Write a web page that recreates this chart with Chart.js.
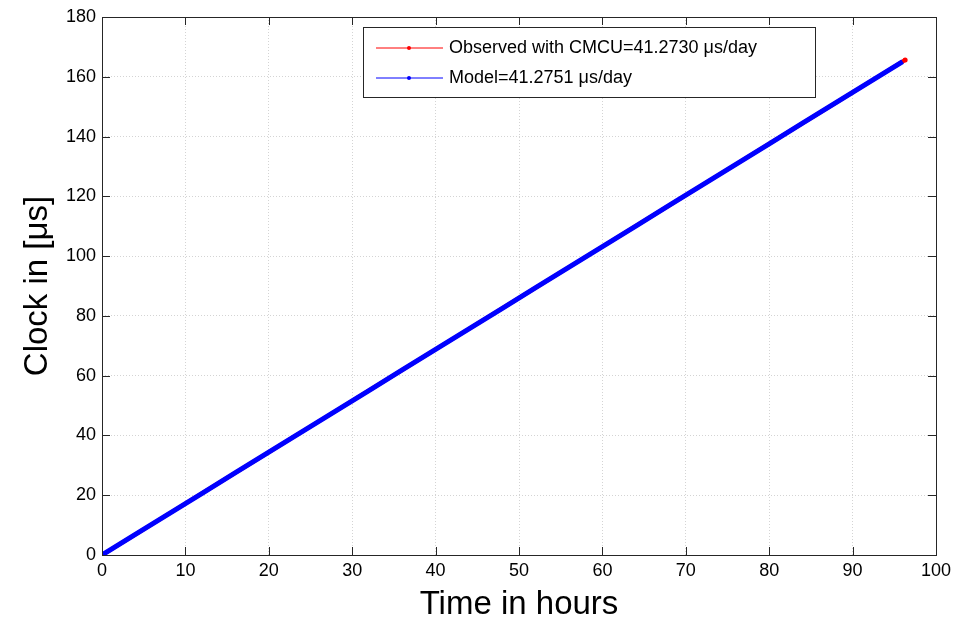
<!DOCTYPE html>
<html>
<head>
<meta charset="utf-8">
<script src="https://cdn.jsdelivr.net/npm/chart.js@4.4.1/dist/chart.umd.min.js"></script>
<style>
  html, body { margin: 0; padding: 0; background: #fff; }
  #wrap { width: 959px; height: 621px; }
</style>
</head>
<body>
<div id="wrap"><canvas id="clockChart" width="959" height="621"></canvas></div>
<script>
// hours since start
const hours = [0, 4, 8, 12, 16, 20, 24, 28, 32, 36, 40, 44, 48, 52, 56, 60, 64, 68, 72, 76, 80, 84, 88, 92, 96];
const obsHours = [0, 4, 8, 12, 16, 20, 24, 28, 32, 36, 40, 44, 48, 52, 56, 60, 64, 68, 72, 76, 80, 84, 88, 92, 96, 96.3];
// clock offset with CMCU [us]
const observed = [0, 6.88, 13.76, 20.64, 27.51, 34.39, 41.27, 48.15, 55.03, 61.91, 68.79, 75.66, 82.55, 89.42, 96.30, 103.18, 110.06, 116.94, 123.82, 130.70, 137.58, 144.45, 151.33, 158.21, 165.09, 165.6];
// model prediction [us]
const model = [0, 6.88, 13.76, 20.64, 27.52, 34.40, 41.28, 48.15, 55.03, 61.91, 68.79, 75.67, 82.55, 89.43, 96.31, 103.19, 110.07, 116.95, 123.83, 130.70, 137.58, 144.46, 151.34, 158.22, 165.10];
const xTicks = [0, 10, 20, 30, 40, 50, 60, 70, 80, 90, 100];
const yTicks = [0, 20, 40, 60, 80, 100, 120, 140, 160, 180];
const obsLabel = "Observed with CMCU=41.2730 \u03bcs/day";
const modelLabel = "Model=41.2751 \u03bcs/day";

const font = "Liberation Sans, Arial, Helvetica, sans-serif";

function pts(xs, ys) {
    return xs.map((x, i) => ({ x: x, y: ys[i] }));
}

// box around the axes, inward tick marks and the legend
const frame = {
    id: "frame",
    afterDraw(chart) {
        const c = chart.ctx, a = chart.chartArea;
        const sx = chart.scales.x, sy = chart.scales.y;
        c.save();
        c.strokeStyle = "#262626";
        c.lineWidth = 1;
        c.strokeRect(a.left + 0.5, a.top + 0.5, a.right - a.left, a.bottom - a.top);
        c.beginPath();
        xTicks.forEach(t => {
            const px = Math.round(sx.getPixelForValue(t)) + 0.5;
            c.moveTo(px, a.bottom); c.lineTo(px, a.bottom - 8);
            c.moveTo(px, a.top); c.lineTo(px, a.top + 8);
        });
        yTicks.forEach(t => {
            const py = Math.round(sy.getPixelForValue(t)) + 0.5;
            c.moveTo(a.left, py); c.lineTo(a.left + 8, py);
            c.moveTo(a.right, py); c.lineTo(a.right - 8, py);
        });
        c.stroke();

        // legend
        const lx = 363, ly = 27, lw = 452, lh = 70;
        c.fillStyle = "#fff";
        c.fillRect(lx, ly, lw, lh);
        c.strokeStyle = "#262626";
        c.strokeRect(lx + 0.5, ly + 0.5, lw, lh);
        c.font = "18px " + font;
        c.textBaseline = "middle";
        chart.data.datasets.forEach((ds, i) => {
            const yy = ly + 21 + i * 30;
            c.strokeStyle = ds.borderColor;
            c.lineWidth = 1;
            c.beginPath();
            c.moveTo(lx + 13, yy); c.lineTo(lx + 80, yy);
            c.stroke();
            c.fillStyle = ds.borderColor;
            c.beginPath();
            c.arc(lx + 46, yy, 2, 0, Math.PI * 2);
            c.fill();
            c.fillStyle = "#000";
            c.fillText(ds.label, lx + 86, yy);
        });
        c.restore();
    }
};

new Chart(document.getElementById("clockChart"), {
    type: "scatter",
    data: {
        datasets: [
            {
                label: obsLabel,
                data: pts(obsHours, observed),
                borderColor: "#ff0000",
                backgroundColor: "#ff0000",
                showLine: true,
                borderWidth: 4,
                // only the last sample sticks out past the model line
                pointRadius: ctx => ctx.dataIndex === obsHours.length - 1 ? 2.5 : 0,
                pointBorderWidth: 0,
                pointHoverRadius: 0,
                order: 2
            },
            {
                label: modelLabel,
                data: pts(hours, model),
                borderColor: "#0000ff",
                backgroundColor: "#0000ff",
                showLine: true,
                borderWidth: 5,
                borderCapStyle: "butt",
                pointRadius: 0,
                pointHoverRadius: 0,
                order: 1
            }
        ]
    },
    options: {
        responsive: false,
        animation: false,
        layout: { padding: { top: 17, right: 23, left: 0, bottom: 0 } },
        plugins: { legend: { display: false }, tooltip: { enabled: false } },
        scales: {
            x: {
                type: "linear",
                min: 0, max: 100,
                afterBuildTicks(s) { s.ticks = xTicks.map(v => ({ value: v })); },
                afterFit(s) { s.height = 66; },
                grid: { color: "#d4d4d4", drawTicks: false },
                border: { display: false, dash: [1, 2] },
                ticks: { color: "#000", padding: 5, font: { family: font, size: 18 }, maxRotation: 0 },
                title: { display: true, text: "Time in hours", color: "#000", padding: { top: 0, bottom: -4 }, font: { family: font, size: 33 } }
            },
            y: {
                type: "linear",
                min: 0, max: 180,
                afterBuildTicks(s) { s.ticks = yTicks.map(v => ({ value: v })); },
                afterFit(s) { s.width = 102; },
                grid: { color: "#d4d4d4", drawTicks: false },
                border: { display: false, dash: [1, 2] },
                ticks: { color: "#000", padding: 6, font: { family: font, size: 18 } },
                title: { display: true, text: "Clock in [\u03bcs]", color: "#000", padding: { top: 18, bottom: 6 }, font: { family: font, size: 33 } }
            }
        }
    },
    plugins: [frame]
});
</script>
</body>
</html>
